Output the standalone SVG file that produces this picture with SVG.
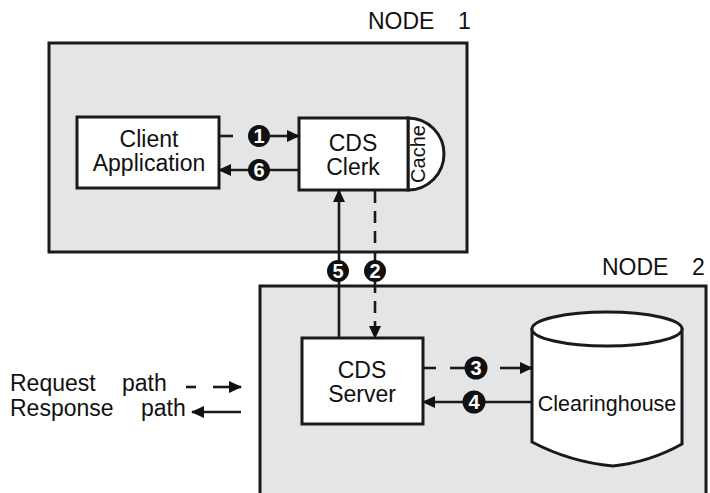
<svg xmlns="http://www.w3.org/2000/svg" width="710" height="493" viewBox="0 0 710 493">
<style>
text{font-family:"Liberation Sans",Arial,Helvetica,sans-serif;fill:#111}
.lbl{font-size:23px;text-anchor:middle}
.big{font-size:23px}
.node{fill:#e4e5e7;stroke:#1a1a1a;stroke-width:3}
.box{fill:#fff;stroke:#1a1a1a;stroke-width:3}
.ln{stroke:#1a1a1a;stroke-width:2.6;fill:none}
.ds{stroke-dasharray:12 8}
.num circle{fill:#111}
.num text{fill:#fff;font-size:20px;font-weight:bold;text-anchor:middle}
</style>
<defs>
<marker id="ah" viewBox="0 0 13 12" refX="12" refY="6" markerWidth="13" markerHeight="12" markerUnits="userSpaceOnUse" orient="auto">
<path d="M0,0 L13,6 L0,12 z" fill="#111"/>
</marker>
</defs>

<g id="node1">
<rect class="node" x="49" y="43" width="418" height="209"/>
<text class="big" y="29"><tspan x="368">NODE</tspan><tspan x="458">1</tspan></text>
</g>
<g id="node2">
<rect class="node" x="260" y="286" width="446" height="220"/>
<text class="big" y="275"><tspan x="602">NODE</tspan><tspan x="692">2</tspan></text>
</g>

<g id="client">
<rect class="box" x="77" y="117" width="142" height="71"/>
<text class="lbl" x="149" y="147">Client</text>
<text class="lbl" x="149" y="171">Application</text>
</g>

<g id="clerk">
<path class="box" d="M408,118 A36,36 0 0 1 408,190 Z"/>
<rect class="box" x="299" y="118" width="109" height="72"/>
<text class="lbl" x="353" y="151">CDS</text>
<text class="lbl" x="353" y="175">Clerk</text>
<text transform="translate(425,154) rotate(-90)" style="font-size:20px;text-anchor:middle">Cache</text>
</g>

<g id="server">
<rect class="box" x="302" y="338" width="121" height="86"/>
<text class="lbl" x="362" y="378">CDS</text>
<text class="lbl" x="362" y="402">Server</text>
</g>

<g id="clearinghouse">
<path class="box" d="M532,328 L532,442 Q570,462 613,466 Q650,462 682,444 L682,328"/>
<ellipse class="box" cx="607" cy="329" rx="75" ry="17"/>
<text x="607" y="411" style="font-size:21.5px;text-anchor:middle">Clearinghouse</text>
</g>

<g id="connectors">
<line class="ln" x1="219" y1="136" x2="233" y2="136"/>
<line class="ln" x1="268" y1="136" x2="299" y2="136" marker-end="url(#ah)"/>
<line class="ln" x1="299" y1="170" x2="219" y2="170" marker-end="url(#ah)"/>
<line class="ln" x1="339" y1="338" x2="339" y2="190" marker-end="url(#ah)"/>
<line class="ln ds" x1="375" y1="191" x2="375" y2="262"/>
<line class="ln ds" x1="375" y1="281" x2="375" y2="338" marker-end="url(#ah)"/>
<line class="ln" x1="423" y1="368" x2="436" y2="368"/>
<line class="ln" x1="450" y1="368" x2="465" y2="368"/>
<line class="ln" x1="500" y1="368" x2="512" y2="368"/>
<line class="ln" x1="512" y1="368" x2="532" y2="368" marker-end="url(#ah)"/>
<line class="ln" x1="532" y1="402" x2="423" y2="402" marker-end="url(#ah)"/>
</g>

<g id="badges" class="num">
<g><circle cx="259" cy="136" r="11"/><text x="259" y="143">1</text></g>
<g><circle cx="259" cy="170" r="11"/><text x="259" y="177">6</text></g>
<g><circle cx="338" cy="271" r="11"/><text x="338" y="278">5</text></g>
<g><circle cx="375" cy="271" r="11"/><text x="375" y="278">2</text></g>
<g><circle cx="476" cy="368" r="11.5"/><text x="476" y="375">3</text></g>
<g><circle cx="474" cy="402" r="11.5"/><text x="474" y="409">4</text></g>
</g>

<g id="legend">
<text class="big" y="391"><tspan x="10">Request</tspan><tspan x="122">path</tspan></text>
<text class="big" y="416"><tspan x="10">Response</tspan><tspan x="141">path</tspan></text>
<line class="ln" x1="186" y1="387" x2="196" y2="387"/>
<line class="ln" x1="213" y1="387" x2="241" y2="387" marker-end="url(#ah)"/>
<line class="ln" x1="241" y1="412" x2="192" y2="412" marker-end="url(#ah)"/>
</g>
</svg>
